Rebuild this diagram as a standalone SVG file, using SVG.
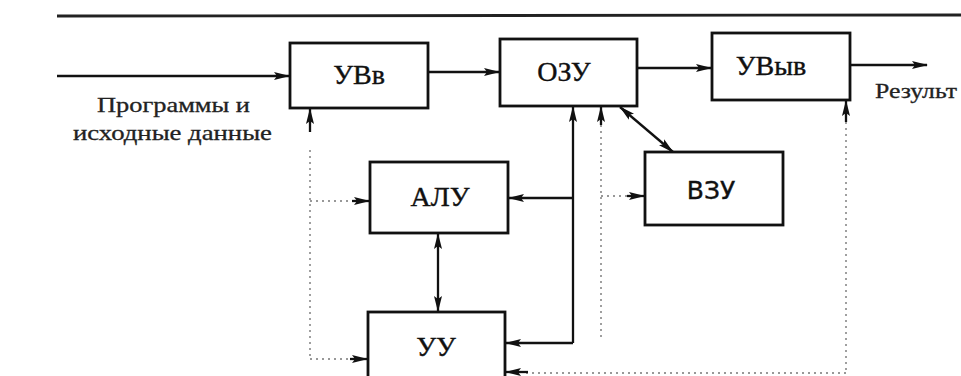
<svg xmlns="http://www.w3.org/2000/svg" width="961" height="376" viewBox="0 0 961 376">
<defs>
<marker id="ah" markerUnits="userSpaceOnUse" markerWidth="16" markerHeight="10" viewBox="0 0 16 10" refX="15" refY="5" orient="auto-start-reverse">
<path d="M0,1 L16,5 L0,9 L3,5 Z" fill="#111"/>
</marker>
</defs>
<style>
.box{fill:#fff;stroke:#111;stroke-width:2.8}
.lbl{font-family:"Liberation Serif","DejaVu Serif",serif;font-size:28px;fill:#111;text-anchor:middle;stroke:#111;stroke-width:0.4}
.sans{font-family:"DejaVu Sans","Liberation Sans",sans-serif;font-size:25px}
.txt{font-family:"Liberation Serif","DejaVu Serif",serif;font-size:21px;fill:#222;stroke:#222;stroke-width:0.3}
.solid{fill:none;stroke:#111;stroke-width:2.3}
.dot{fill:none;stroke:#777;stroke-width:1.4;stroke-dasharray:2 4}
</style>
<rect width="961" height="376" fill="#fff"/>
<line x1="57" y1="16" x2="961" y2="15" stroke="#222" stroke-width="2.8"/>
<g id="connectors">
<line class="solid" x1="57" y1="76" x2="289" y2="76" marker-end="url(#ah)"/>
<line class="solid" x1="428" y1="72" x2="499" y2="72" marker-end="url(#ah)"/>
<line class="solid" x1="637" y1="68" x2="711" y2="68" marker-end="url(#ah)"/>
<line class="solid" x1="850" y1="65" x2="927" y2="65" marker-end="url(#ah)"/>
<line class="solid" x1="620" y1="107" x2="673" y2="152" marker-start="url(#ah)" marker-end="url(#ah)"/>
<line class="solid" x1="438" y1="234" x2="438" y2="311" marker-start="url(#ah)" marker-end="url(#ah)"/>
<line class="solid" x1="573" y1="343" x2="573" y2="107" marker-end="url(#ah)"/>
<line class="solid" x1="573" y1="198" x2="509" y2="198" marker-end="url(#ah)"/>
<line class="solid" x1="573" y1="343" x2="506" y2="343" marker-end="url(#ah)"/>
<line class="solid" x1="310" y1="132" x2="310" y2="109" marker-end="url(#ah)"/>
<line class="solid" x1="846" y1="122" x2="846" y2="101" marker-end="url(#ah)"/>
<line class="solid" x1="601" y1="125" x2="601" y2="107" marker-end="url(#ah)"/>
<line class="dot" x1="310" y1="150" x2="310" y2="360"/>
<line class="dot" x1="310" y1="201" x2="355" y2="201"/>
<line class="solid" x1="352" y1="201" x2="369" y2="201" marker-end="url(#ah)"/>
<line class="dot" x1="310" y1="359" x2="353" y2="359"/>
<line class="solid" x1="350" y1="359" x2="367" y2="359" marker-end="url(#ah)"/>
<line class="dot" x1="601" y1="125" x2="601" y2="338"/>
<line class="dot" x1="601" y1="196" x2="630" y2="196"/>
<line class="solid" x1="627" y1="196" x2="644" y2="196" marker-end="url(#ah)"/>
<line class="dot" x1="846" y1="122" x2="846" y2="373"/>
<line class="dot" x1="846" y1="373" x2="525" y2="373"/>
<line class="solid" x1="528" y1="372" x2="506" y2="372" marker-end="url(#ah)"/>
</g>
<g id="uvv"><rect class="box" x="290" y="43" width="138" height="65"/><text class="lbl" x="359" y="84">УВв</text></g>
<g id="ozu"><rect class="box" x="500" y="39" width="137" height="67"/><text class="lbl" x="564" y="81">ОЗУ</text></g>
<g id="uvyv"><rect class="box" x="712" y="33" width="138" height="67"/><text class="lbl" x="771" y="75">УВыв</text></g>
<g id="vzu"><rect class="box" x="645" y="152" width="138" height="73"/><text class="lbl sans" x="711" y="199">ВЗУ</text></g>
<g id="alu"><rect class="box" x="370" y="162" width="138" height="71"/><text class="lbl" x="440" y="206">АЛУ</text></g>
<g id="uu"><rect class="box" x="368" y="312" width="137" height="70"/><text class="lbl" x="436" y="356">УУ</text></g>
<g id="labels">
<text class="txt" x="97" y="112" textLength="153" lengthAdjust="spacingAndGlyphs">Программы и</text>
<text class="txt" x="73" y="140" textLength="199" lengthAdjust="spacingAndGlyphs">исходные данные</text>
<text class="txt" x="875" y="98" textLength="82" lengthAdjust="spacingAndGlyphs">Результ</text>
</g>
</svg>
